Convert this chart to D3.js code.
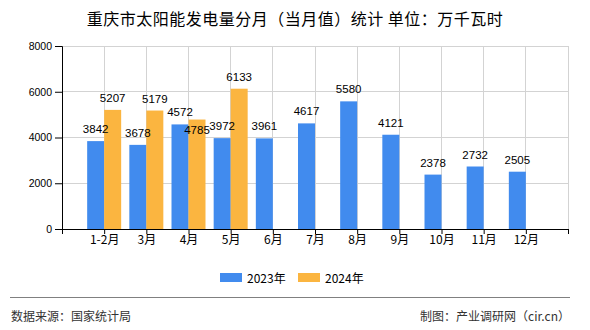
<!DOCTYPE html>
<html><head><meta charset="utf-8">
<script src="https://cdn.jsdelivr.net/npm/d3@7"></script>
<style>html,body{margin:0;padding:0;background:#fff;}svg{display:block;}</style>
</head><body><div id="chart"></div>
<script>
const title = "重庆市太阳能发电量分月（当月值）统计 单位：万千瓦时";
const categories = ["1-2月","3月","4月","5月","6月","7月","8月","9月","10月","11月","12月"];
const series2023 = [3842,3678,4572,3972,3961,4617,5580,4121,2378,2732,2505];
const series2024 = [5207,5179,4785,6133];
const yTicks = [0,2000,4000,6000,8000];
const seriesNames = ["2023年","2024年"];
const sourceText = "数据来源：国家统计局";
const creditText = "制图：产业调研网（cir.cn）";

const W = 590, H = 330;
const colors = ["#418BEE","#FBB540"];
const numFont = "'Liberation Sans', Arial, sans-serif";
const cjkFont = "'Noto Sans CJK SC', 'Liberation Sans', sans-serif";

const svg = d3.select("#chart").append("svg").attr("width", W).attr("height", H);

const x = d3.scaleLinear().domain([0, categories.length + 1]).range([62, 568]);
const y = d3.scaleLinear().domain([0, 8000]).range([229, 46]);
const barW = 17;

// title
svg.append("text").attr("x", 295).attr("y", 18).attr("text-anchor","middle")
  .attr("dominant-baseline","central").style("font-family", cjkFont)
  .style("font-size","16px").style("letter-spacing","0.5px").attr("fill","#000").text(title);

// grid
const g = svg.append("g");
const xPositions = d3.range(0, categories.length + 2);
g.selectAll(".vg").data(xPositions).enter().append("line")
  .attr("x1", d => x(d)).attr("x2", d => x(d)).attr("y1", y(8000)).attr("y2", y(0))
  .attr("stroke","#d3d3d3").attr("stroke-width",1).attr("shape-rendering","crispEdges");
g.selectAll(".hg").data(yTicks.filter(d => d > 0)).enter().append("line")
  .attr("x1", x(0)).attr("x2", x(categories.length + 1)).attr("y1", d => y(d)).attr("y2", d => y(d))
  .attr("stroke","#d3d3d3").attr("stroke-width",1).attr("shape-rendering","crispEdges");

// bars
const bars = svg.append("g");
const allSeries = [series2023, series2024];
allSeries.forEach((s, si) => {
  bars.selectAll(".b" + si).data(s).enter().append("rect")
    .attr("x", (d, i) => x(i + 1) - barW + si * barW)
    .attr("width", barW)
    .attr("y", d => y(d))
    .attr("height", d => y(0) - y(d))
    .attr("fill", colors[si]);
});

// axes
const yAxis = d3.axisLeft(y).tickValues(yTicks).tickSize(7).tickPadding(3).tickFormat(d3.format("d"));
const ya = svg.append("g").attr("transform", `translate(${x(0)},0)`).call(yAxis);
ya.select(".domain").attr("stroke","#000");
ya.selectAll(".tick line").attr("stroke","#000");
ya.selectAll("text").style("font-family", numFont).style("font-size","10.5px").attr("fill","#000");

const xAxis = d3.axisBottom(x).tickValues(xPositions).tickSize(5).tickSizeOuter(0)
  .tickFormat(d => (d >= 1 && d <= categories.length) ? categories[d - 1] : "");
const xa = svg.append("g").attr("transform", `translate(0,${y(0)})`).call(xAxis);
xa.select(".domain").attr("stroke","#000");
xa.selectAll(".tick line").attr("stroke","#000");
xa.selectAll("text").style("font-family", cjkFont).style("font-size","12px").attr("fill","#000").attr("dy","0.6em");

// value labels
const labels = [];
allSeries.forEach((s, si) => {
  s.forEach((v, i) => {
    labels.push({si, i, v, cx: x(i + 1) - barW / 2 + si * barW, cy: y(v) - 12});
  });
});
// resolve collisions: push second series label inside the bar when overlapping
labels.filter(l => l.si === 1).forEach(l => {
  const other = labels.find(o => o.si === 0 && o.i === l.i);
  if (other && Math.abs(other.cy - l.cy) < 14) l.cy = y(l.v) + 10;
});
svg.append("g").selectAll("text").data(labels).enter().append("text")
  .attr("x", d => d.cx).attr("y", d => d.cy).attr("text-anchor","middle")
  .attr("dominant-baseline","central").style("font-family", numFont)
  .style("font-size","11.5px").attr("fill","#000").text(d => d.v);

// legend
const lg = svg.append("g");
const legendX = [220, 298];
seriesNames.forEach((n, k) => {
  lg.append("rect").attr("x", legendX[k]).attr("y", 273).attr("width", 22).attr("height", 9).attr("fill", colors[k]);
  lg.append("text").attr("x", legendX[k] + 27).attr("y", 277.5).attr("dominant-baseline","central")
    .style("font-family", cjkFont).style("font-size","12px").attr("fill","#000").text(n);
});

// footer
svg.append("line").attr("x1",10).attr("x2",570).attr("y1",297.5).attr("y2",297.5)
  .attr("stroke","#808080").attr("stroke-width",1);
svg.append("text").attr("x",11).attr("y",315).attr("dominant-baseline","central")
  .style("font-family", cjkFont).style("font-size","12px").attr("fill","#333").text(sourceText);
svg.append("text").attr("x",570).attr("y",315).attr("text-anchor","end").attr("dominant-baseline","central")
  .style("font-family", cjkFont).style("font-size","12px").attr("fill","#333").text(creditText);
</script></body></html>
